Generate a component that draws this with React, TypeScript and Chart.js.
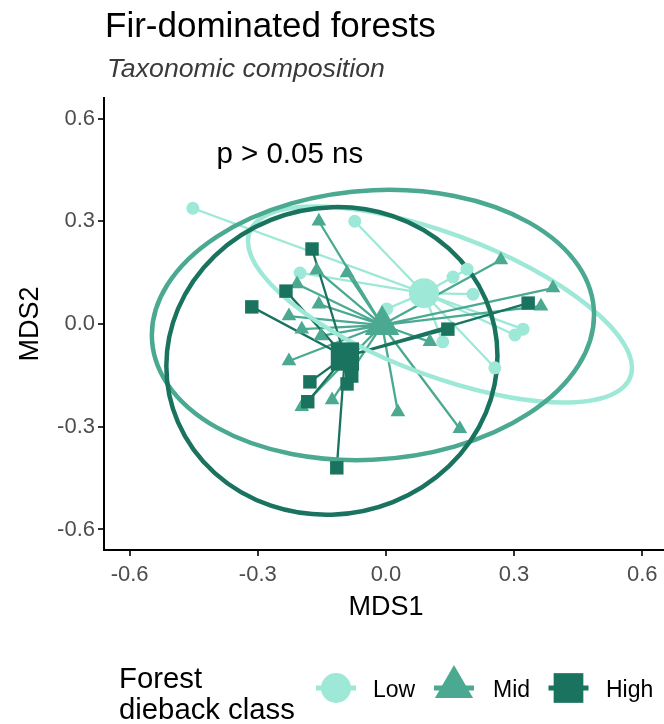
import React, { useEffect, useRef } from 'react';
import { Chart, registerables } from 'chart.js';

Chart.register(...registerables);

// ---- data ----
const groupNames = ['Low', 'Mid', 'High'];
const groupColors = ['#9DE8D7', '#4AA990', '#1A735F'];
const groupStyles = ['circle', 'triangle', 'rect'];

const lowX = [-0.452, -0.073, -0.201, 0.157, 0.19, 0.002, 0.204, 0.321, 0.302, 0.133, 0.255];
const lowY = [0.338, 0.3, 0.149, 0.137, 0.16, 0.044, 0.087, -0.015, -0.032, -0.052, -0.128];

const midX = [-0.157, -0.091, -0.162, -0.208, -0.157, -0.227, -0.197, -0.152, -0.227, -0.197, -0.126, 0.028, 0.173, 0.103, 0.269, 0.391, 0.363];
const midY = [0.3, 0.149, 0.157, 0.117, 0.058, 0.023, -0.015, -0.035, -0.108, -0.242, -0.222, -0.257, -0.306, -0.052, 0.187, 0.105, 0.052];

const highX = [-0.173, -0.314, -0.234, -0.178, -0.183, -0.08, -0.091, 0.333, 0.145, -0.115];
const highY = [0.219, 0.05, 0.096, -0.169, -0.227, -0.152, -0.175, 0.061, -0.015, -0.42];

const centroidX = [0.089, -0.009, -0.096];
const centroidY = [0.09, -0.003, -0.095];

// ellipse: centre and two conjugate semi-diameters (data units)
const ellipseCX = [0.1265, -0.0304, -0.1265];
const ellipseCY = [0.0569, -0.0029, -0.1079];
const ellipseUX = [0.4496, 0.5176, 0.3876];
const ellipseUY = [-0.1848, 0.0292, 0.0146];
const ellipseVX = [0, 0, 0];
const ellipseVY = [0.2187, 0.3936, 0.449];

const xTicks = [-0.6, -0.3, 0, 0.3, 0.6];
const yTicks = [-0.6, -0.3, 0, 0.3, 0.6];

const annotationText = 'p > 0.05 ns';
const annotationX = -0.225;
const annotationY = 0.47;

const FONT = "'Liberation Sans', Arial, sans-serif";

const groupXs = [lowX, midX, highX];
const groupYs = [lowY, midY, highY];

function segmentData(g: number) {
  const xs = groupXs[g];
  const ys = groupYs[g];
  const out: any[] = [];
  xs.forEach((x, i) => {
    out.push({ x, y: ys[i] });
    out.push({ x: centroidX[g], y: centroidY[g] });
    out.push({ x: null, y: null });
  });
  return out;
}

function drawShape(ctx: CanvasRenderingContext2D, style: string, x: number, y: number, r: number) {
  ctx.beginPath();
  if (style === 'circle') {
    ctx.arc(x, y, r, 0, Math.PI * 2);
  } else if (style === 'triangle') {
    let a = 0;
    ctx.moveTo(x + Math.sin(a) * r, y - Math.cos(a) * r);
    a += (2 * Math.PI) / 3;
    ctx.lineTo(x + Math.sin(a) * r, y - Math.cos(a) * r);
    a += (2 * Math.PI) / 3;
    ctx.lineTo(x + Math.sin(a) * r, y - Math.cos(a) * r);
    ctx.closePath();
  } else {
    const s = Math.SQRT1_2 * r;
    ctx.rect(x - s, y - s, 2 * s, 2 * s);
  }
  ctx.fill();
}

const overlayPlugin = {
  id: 'overlay',
  afterDatasetDraw(chart: any, args: any) {
    const ds = chart.data.datasets[args.index];
    if (ds.id !== 'seg-High') return;
    const ctx: CanvasRenderingContext2D = chart.ctx;
    const xs = chart.scales.x;
    const ys = chart.scales.y;
    for (let i = 0; i < 3; i++) {
      const cx = xs.getPixelForValue(ellipseCX[i]);
      const cy = ys.getPixelForValue(ellipseCY[i]);
      const ux = xs.getPixelForValue(ellipseCX[i] + ellipseUX[i]) - cx;
      const uy = ys.getPixelForValue(ellipseCY[i] + ellipseUY[i]) - cy;
      const vx = xs.getPixelForValue(ellipseCX[i] + ellipseVX[i]) - cx;
      const vy = ys.getPixelForValue(ellipseCY[i] + ellipseVY[i]) - cy;
      ctx.save();
      ctx.beginPath();
      ctx.save();
      ctx.transform(ux, uy, vx, vy, cx, cy);
      ctx.arc(0, 0, 1, 0, Math.PI * 2);
      ctx.restore();
      ctx.lineWidth = 4.5;
      ctx.strokeStyle = groupColors[i];
      ctx.stroke();
      ctx.restore();
    }
  },
  afterDraw(chart: any) {
    const ctx: CanvasRenderingContext2D = chart.ctx;
    const xs = chart.scales.x;
    const ys = chart.scales.y;
    ctx.save();
    ctx.textBaseline = 'alphabetic';
    // title
    ctx.fillStyle = '#000';
    ctx.textAlign = 'left';
    ctx.font = `35px ${FONT}`;
    ctx.fillText('Fir-dominated forests', 105, 37);
    ctx.fillStyle = '#3A3A3A';
    ctx.font = `italic 26.7px ${FONT}`;
    ctx.fillText('Taxonomic composition', 107, 77);
    // annotation
    ctx.fillStyle = '#000';
    ctx.font = `29.5px ${FONT}`;
    ctx.textAlign = 'center';
    ctx.fillText(annotationText, xs.getPixelForValue(annotationX), ys.getPixelForValue(annotationY));
    // axis titles
    ctx.font = `27px ${FONT}`;
    ctx.fillText('MDS1', xs.getPixelForValue(0), 615);
    ctx.save();
    ctx.translate(38, ys.getPixelForValue(0));
    ctx.rotate(-Math.PI / 2);
    ctx.fillText('MDS2', 0, 0);
    ctx.restore();
    // legend
    ctx.textAlign = 'left';
    ctx.font = `29.3px ${FONT}`;
    ctx.fillText('Forest', 119, 688);
    ctx.fillText('dieback class', 119, 719);
    const keyX = [336, 454, 568.5];
    const keyR = [15, 22, 21];
    const labelX = [373, 493, 606];
    for (let i = 0; i < 3; i++) {
      ctx.strokeStyle = groupColors[i];
      ctx.fillStyle = groupColors[i];
      ctx.lineWidth = 5;
      ctx.beginPath();
      ctx.moveTo(keyX[i] - 20, 688);
      ctx.lineTo(keyX[i] + 20, 688);
      ctx.stroke();
      drawShape(ctx, groupStyles[i], keyX[i], i === 1 ? 687 : 688, keyR[i]);
      ctx.fillStyle = '#000';
      ctx.font = `23px ${FONT}`;
      ctx.fillText(groupNames[i], labelX[i], 697);
    }
    ctx.restore();
  },
};

export default function App() {
  const ref = useRef<HTMLCanvasElement>(null);
  useEffect(() => {
    if (!ref.current) return;
    const datasets: any[] = [];
    groupNames.forEach((name, g) => {
      datasets.push({
        id: `seg-${name}`,
        type: 'line',
        data: segmentData(g),
        borderColor: groupColors[g],
        borderWidth: 2.3,
        pointRadius: 0,
        showLine: true,
        spanGaps: false,
        tension: 0,
        order: 40 - g,
      });
    });
    groupNames.forEach((name, g) => {
      datasets.push({
        id: `pts-${name}`,
        type: 'scatter',
        data: groupXs[g].map((x, i) => ({ x, y: groupYs[g][i] })),
        backgroundColor: groupColors[g],
        borderWidth: 0,
        pointStyle: groupStyles[g],
        pointRadius: [6.5, 8.5, 9.5][g],
        order: 30 - g,
      });
    });
    groupNames.forEach((name, g) => {
      datasets.push({
        id: `cen-${name}`,
        type: 'scatter',
        data: [{ x: centroidX[g], y: centroidY[g] }],
        backgroundColor: groupColors[g],
        borderWidth: 0,
        pointStyle: groupStyles[g],
        pointRadius: [15, 20, 20][g],
        order: 20 - g,
      });
    });
    const tickFont = { family: FONT, size: 22 };
    const chart = new Chart(ref.current, {
      type: 'scatter',
      data: { datasets },
      options: {
        animation: false,
        responsive: false,
        events: [],
        layout: { autoPadding: false, padding: { top: 98, left: 0, right: 0, bottom: 0 } },
        plugins: { legend: { display: false }, tooltip: { enabled: false }, title: { display: false } },
        scales: {
          x: {
            type: 'linear',
            min: -0.66,
            max: 0.651,
            afterBuildTicks: (s: any) => { s.ticks = xTicks.map((v) => ({ value: v })); },
            afterFit: (s: any) => { s.height = 174; s.paddingLeft = 0; s.paddingRight = 0; },
            ticks: { font: tickFont, color: '#4D4D4D', padding: 6, autoSkip: false, maxRotation: 0, callback: (v: any) => Number(v).toFixed(1) },
            grid: { display: true, drawOnChartArea: false, drawTicks: true, tickLength: 6, color: '#333333', lineWidth: 2 },
            border: { display: true, color: '#000', width: 2 },
          },
          y: {
            type: 'linear',
            min: -0.66,
            max: 0.66,
            afterBuildTicks: (s: any) => { s.ticks = yTicks.map((v) => ({ value: v })); },
            afterFit: (s: any) => { s.width = 104; s.paddingTop = 0; s.paddingBottom = 0; },
            ticks: { font: tickFont, color: '#4D4D4D', padding: 3, autoSkip: false, callback: (v: any) => Number(v).toFixed(1) },
            grid: { display: true, drawOnChartArea: false, drawTicks: true, tickLength: 6, color: '#333333', lineWidth: 2 },
            border: { display: true, color: '#000', width: 2 },
          },
        },
      },
      plugins: [overlayPlugin],
    } as any);
    return () => chart.destroy();
  }, []);
  return (
    <div style={{ position: 'absolute', left: 0, top: 0, width: 664, height: 724, overflow: 'hidden', background: '#fff' }}>
      <canvas ref={ref} width={664} height={724} style={{ display: 'block' }} />
    </div>
  );
}
